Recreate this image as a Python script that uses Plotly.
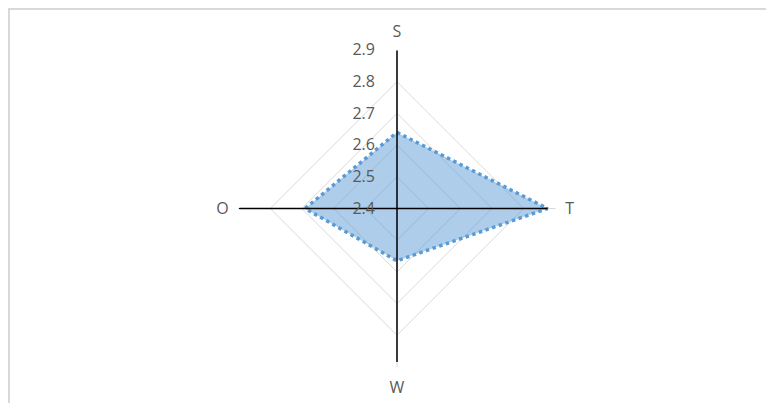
import plotly.graph_objects as go

categories = ["S", "T", "W", "O"]
values = [2.64, 2.875, 2.565, 2.69]
radial_ticks = [2.4, 2.5, 2.6, 2.7, 2.8, 2.9]
r_min, r_max = 2.4, 2.9

W, H = 774, 403
off = 8  # page body margin
cx, cy, rad = 397 - off, 208.5 - off, 158.5

fig = go.Figure()

fig.add_trace(go.Scatterpolar(
    r=values + [values[0]],
    theta=categories + [categories[0]],
    mode="lines",
    fill="toself",
    fillcolor="rgba(91,155,213,0.5)",
    line=dict(color="#5B9BD5", width=3.5, dash="dot"),
    hoverinfo="skip",
    showlegend=False,
))

# black cross lines
fig.add_trace(go.Scatterpolar(
    r=[r_max, r_min, 2.884], theta=["S", "S", "W"],
    mode="lines", line=dict(color="black", width=1.5),
    hoverinfo="skip", showlegend=False,
))
fig.add_trace(go.Scatterpolar(
    r=[r_max, r_min, 2.875], theta=["O", "O", "T"],
    mode="lines", line=dict(color="black", width=1.5),
    hoverinfo="skip", showlegend=False,
))

fig.update_layout(
    width=W, height=H,
    margin=dict(l=0, r=0, t=0, b=0),
    paper_bgcolor="white",
    font=dict(family="Open Sans", color="#595959"),
    polar=dict(
        domain=dict(x=[(cx - rad) / W, (cx + rad) / W],
                    y=[(H - cy - rad) / H, (H - cy + rad) / H]),
        bgcolor="white",
        gridshape="linear",
        radialaxis=dict(
            range=[r_min, r_max],
            tickvals=radial_ticks,
            ticktext=[f"{v:.1f}" for v in radial_ticks],
            angle=90,
            tickangle=90,
            side="counterclockwise",
            showline=False,
            gridcolor="#d9d9d9",
            gridwidth=1,
            ticks="outside",
            ticklen=16,
            tickcolor="rgba(0,0,0,0)",
            tickfont=dict(size=16, color="#595959"),
        ),
        angularaxis=dict(
            categoryorder="array",
            categoryarray=categories,
            rotation=90,
            direction="clockwise",
            showline=False,
            gridcolor="#d9d9d9",
            ticks="outside",
            ticklen=6,
            tickcolor="rgba(0,0,0,0)",
            tickfont=dict(size=16, color="#595959"),
        ),
    ),
    shapes=[dict(
        type="rect", xref="paper", yref="paper",
        x0=(9 - off) / W, x1=1.02, y0=-0.05, y1=1 - (9 - off) / H,
        line=dict(color="#d9d9d9", width=2),
        fillcolor="rgba(0,0,0,0)", layer="below",
    )],
)

fig.write_html("out.html")
